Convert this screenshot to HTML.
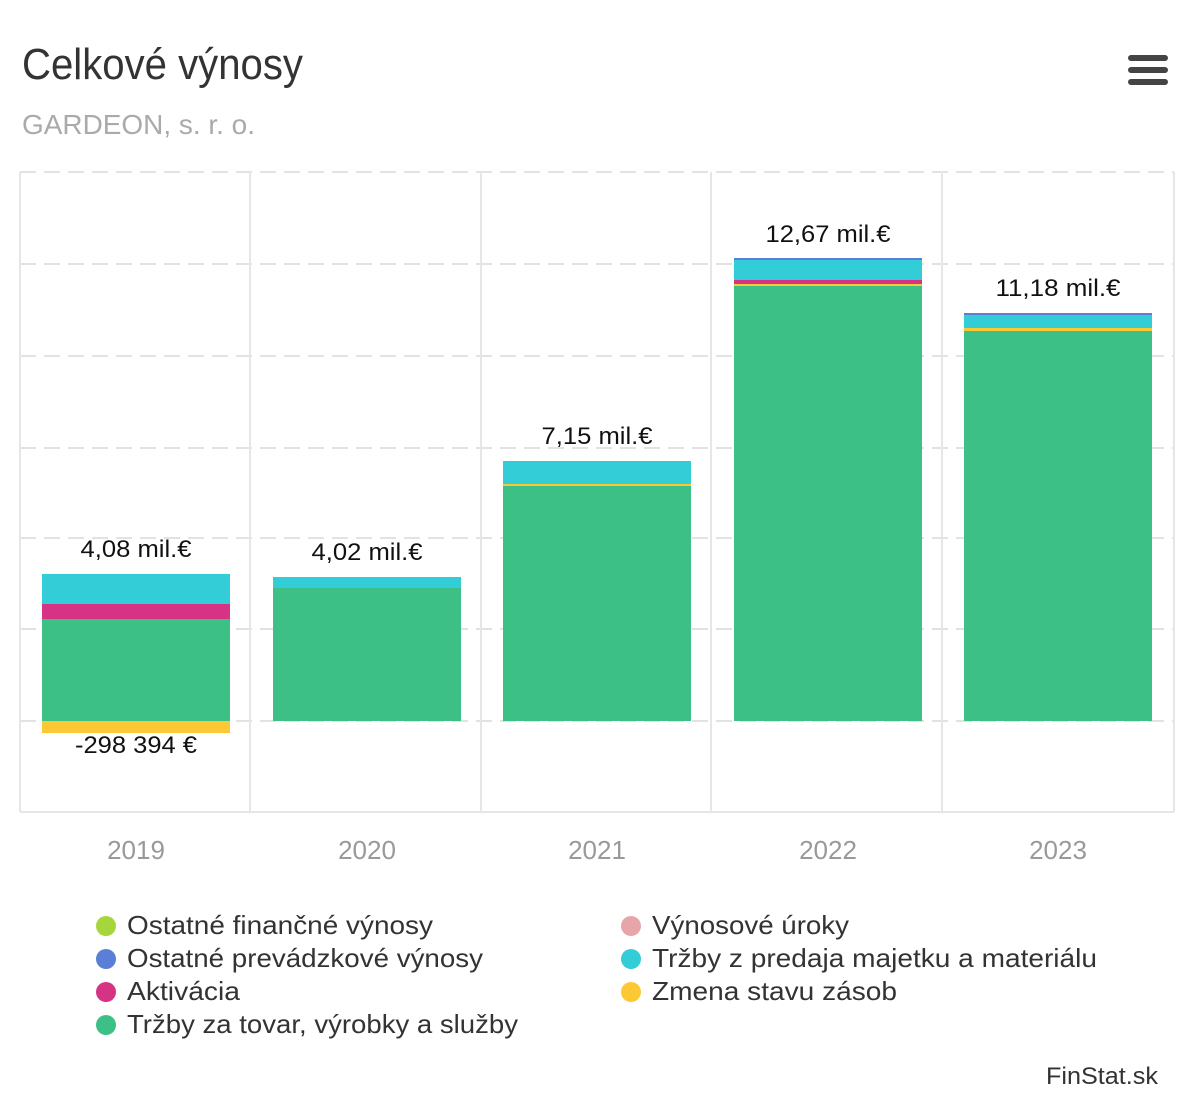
<!DOCTYPE html>
<html><head><meta charset="utf-8"><style>
html,body{margin:0;padding:0;background:#fff;}
svg{display:block;font-family:"Liberation Sans",sans-serif;}
</style></head><body>
<svg width="1200" height="1106" viewBox="0 0 1200 1106" xmlns="http://www.w3.org/2000/svg">
<text x="22" y="79" font-size="44" fill="#333" textLength="281" lengthAdjust="spacingAndGlyphs">Celkové výnosy</text>
<text x="22" y="134" font-size="28" fill="#aaa" textLength="233" lengthAdjust="spacingAndGlyphs">GARDEON, s. r. o.</text>
<g fill="#444"><rect x="1128" y="55" width="40" height="6" rx="3"/><rect x="1128" y="67" width="40" height="6" rx="3"/><rect x="1128" y="79" width="40" height="6" rx="3"/></g>
<g stroke="#e2e2e2" stroke-width="2" stroke-dasharray="16,8">
<line x1="20" y1="172" x2="1174" y2="172"/>
<line x1="20" y1="264" x2="1174" y2="264"/>
<line x1="20" y1="356" x2="1174" y2="356"/>
<line x1="20" y1="448" x2="1174" y2="448"/>
<line x1="20" y1="538" x2="1174" y2="538"/>
<line x1="20" y1="629" x2="1174" y2="629"/>
<line x1="20" y1="721" x2="1174" y2="721"/>
</g>
<g stroke="#e6e6e6" stroke-width="2">
<line x1="20" y1="172" x2="20" y2="812"/><line x1="250" y1="172" x2="250" y2="812"/>
<line x1="481" y1="172" x2="481" y2="812"/><line x1="711" y1="172" x2="711" y2="812"/>
<line x1="942" y1="172" x2="942" y2="812"/><line x1="1174" y1="172" x2="1174" y2="812"/>
<line x1="20" y1="812" x2="1174" y2="812"/>
</g>
<rect x="42" y="574" width="188" height="30" fill="#33cdd8"/>
<rect x="42" y="604" width="188" height="15" fill="#d63384"/>
<rect x="42" y="619" width="188" height="102" fill="#3cc085"/>
<rect x="42" y="721" width="188" height="12" fill="#fcc934"/>
<rect x="273" y="577" width="188" height="11" fill="#33cdd8"/>
<rect x="273" y="588" width="188" height="133" fill="#3cc085"/>
<rect x="503" y="461" width="188" height="23" fill="#33cdd8"/>
<rect x="503" y="484" width="188" height="2" fill="#fcc934"/>
<rect x="503" y="486" width="188" height="235" fill="#3cc085"/>
<rect x="734" y="258" width="188" height="2" fill="#5b7fd6"/>
<rect x="734" y="260" width="188" height="20" fill="#33cdd8"/>
<rect x="734" y="280" width="188" height="4" fill="#d63384"/>
<rect x="734" y="284" width="188" height="2" fill="#fcc934"/>
<rect x="734" y="286" width="188" height="435" fill="#3cc085"/>
<rect x="964" y="313" width="188" height="2" fill="#5b7fd6"/>
<rect x="964" y="315" width="188" height="13" fill="#33cdd8"/>
<rect x="964" y="328" width="188" height="3" fill="#fcc934"/>
<rect x="964" y="331" width="188" height="390" fill="#3cc085"/>
<g font-size="24" fill="#111" text-anchor="middle">
<text x="136" y="557" textLength="111" lengthAdjust="spacingAndGlyphs">4,08 mil.€</text>
<text x="136" y="753" textLength="122" lengthAdjust="spacingAndGlyphs">-298 394 €</text>
<text x="367" y="560" textLength="111" lengthAdjust="spacingAndGlyphs">4,02 mil.€</text>
<text x="597" y="444" textLength="111" lengthAdjust="spacingAndGlyphs">7,15 mil.€</text>
<text x="828" y="242" textLength="125" lengthAdjust="spacingAndGlyphs">12,67 mil.€</text>
<text x="1058" y="296" textLength="125" lengthAdjust="spacingAndGlyphs">11,18 mil.€</text>
</g>
<g font-size="26" fill="#999" text-anchor="middle">
<text x="136" y="859">2019</text><text x="367" y="859">2020</text><text x="597" y="859">2021</text><text x="828" y="859">2022</text><text x="1058" y="859">2023</text>
</g>
<g font-size="26" fill="#333" lengthAdjust="spacingAndGlyphs">
<circle cx="106" cy="926" r="10" fill="#a5d63c"/><text x="127" y="934" textLength="306" lengthAdjust="spacingAndGlyphs">Ostatné finančné výnosy</text>
<circle cx="106" cy="959" r="10" fill="#5b7fd6"/><text x="127" y="967" textLength="356" lengthAdjust="spacingAndGlyphs">Ostatné prevádzkové výnosy</text>
<circle cx="106" cy="992" r="10" fill="#d63384"/><text x="127" y="1000" textLength="113" lengthAdjust="spacingAndGlyphs">Aktivácia</text>
<circle cx="106" cy="1025" r="10" fill="#3cc085"/><text x="127" y="1033" textLength="391" lengthAdjust="spacingAndGlyphs">Tržby za tovar, výrobky a služby</text>
<circle cx="631" cy="926" r="10" fill="#e8a5a8"/><text x="652" y="934" textLength="197" lengthAdjust="spacingAndGlyphs">Výnosové úroky</text>
<circle cx="631" cy="959" r="10" fill="#33cdd8"/><text x="652" y="967" textLength="445" lengthAdjust="spacingAndGlyphs">Tržby z predaja majetku a materiálu</text>
<circle cx="631" cy="992" r="10" fill="#fcc934"/><text x="652" y="1000" textLength="245" lengthAdjust="spacingAndGlyphs">Zmena stavu zásob</text>
</g>
<text x="1158" y="1084" font-size="24" fill="#333" text-anchor="end" textLength="112" lengthAdjust="spacingAndGlyphs">FinStat.sk</text>
</svg>
</body></html>
